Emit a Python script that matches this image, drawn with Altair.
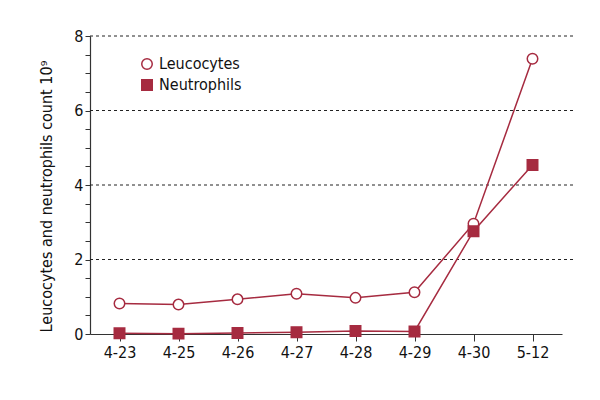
import altair as alt
import pandas as pd

dates = ["4-23", "4-25", "4-26", "4-27", "4-28", "4-29", "4-30", "5-12"]
leucocytes = [0.82, 0.79, 0.93, 1.08, 0.97, 1.12, 2.96, 7.39]
neutrophils = [0.02, 0.01, 0.03, 0.05, 0.08, 0.07, 2.76, 4.54]
grid_values = [2, 4, 6, 8]
tick_values = [i * 0.5 for i in range(17)]

RED = "#a62b40"
FONT = "'DejaVu Sans Condensed', 'Liberation Sans Narrow', Roboto, sans-serif"

rows = []
for d, v in zip(dates, leucocytes):
    rows.append({"date": d, "value": v, "series": "Leucocytes"})
for d, v in zip(dates, neutrophils):
    rows.append({"date": d, "value": v, "series": "Neutrophils"})
df = pd.DataFrame(rows)
grid_df = pd.DataFrame({"value": grid_values})

x = alt.X("date:N", sort=dates,
          scale=alt.Scale(type="point", padding=0.5, range=[0, 472]),
          axis=alt.Axis(title=None, labelAngle=0, labelFontSize=16, labelFont=FONT,
                        labelColor="#111", domainColor="#333", tickColor="#333",
                        tickSize=7, labelPadding=3, grid=False, domainWidth=1.2))
yaxis = alt.Axis(title="Leucocytes and neutrophils count 10⁹", values=tick_values,
                 labelExpr="datum.value % 2 == 0 ? format(datum.value, 'd') : ''",
                 titleFont=FONT, titleFontSize=16, titleFontWeight="normal",
                 titleColor="#111", labelFont=FONT, labelFontSize=16,
                 labelColor="#111", domainColor="#333", tickColor="#333",
                 tickSize=5, grid=False, titlePadding=19, titleY=160, domainWidth=1.2)
yscale = alt.Scale(domain=[0, 8], nice=False)
y = alt.Y("value:Q", scale=yscale, axis=yaxis)

grid = alt.Chart(grid_df).mark_rule(color="#222", strokeDash=[3, 3], strokeWidth=1).encode(
    y=y
)

lines = alt.Chart(df).mark_line(color=RED, strokeWidth=1.5).encode(
    x=x, y=y, detail="series:N"
)

legend = alt.Legend(title=None, orient="none", legendX=49, legendY=20,
                    labelFont=FONT, labelFontSize=16, labelColor="#111",
                    symbolSize=110, symbolStrokeWidth=1.5, rowPadding=3, padding=0)

points = alt.Chart(df).mark_point(filled=False, size=110, strokeWidth=1.5, opacity=1).encode(
    x=x, y=y,
    shape=alt.Shape("series:N", scale=alt.Scale(domain=["Leucocytes", "Neutrophils"],
                                                 range=["circle", "square"]), legend=legend),
    fill=alt.Fill("series:N", scale=alt.Scale(domain=["Leucocytes", "Neutrophils"],
                                               range=["white", RED]), legend=legend),
    stroke=alt.Stroke("series:N", scale=alt.Scale(domain=["Leucocytes", "Neutrophils"],
                                                   range=[RED, RED]), legend=legend),
)

chart = alt.layer(grid, lines, points).properties(
    width=483, height=298,
    autosize=alt.AutoSizeParams(type="none"),
    padding={"left": 82, "top": 28, "right": 10, "bottom": 50},
).configure_view(stroke=None)

chart.save("out.html", embed_options={"renderer": "svg", "actions": False})
